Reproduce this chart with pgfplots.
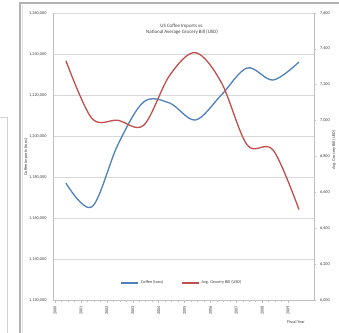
\documentclass[border=0pt]{standalone}
\usepackage{pgfplots}
\pgfplotsset{compat=1.18}
\usepackage{fontspec}
\setmainfont{Carlito}

\definecolor{xlblue}{HTML}{4F81BD}
\definecolor{xlred}{HTML}{C0504D}
\definecolor{gridgray}{HTML}{D9D9D9}
\definecolor{axgray}{HTML}{BFBFBF}
\definecolor{txtgray}{HTML}{404040}

\newcommand{\chartfont}{\fontsize{4.3}{5}\selectfont}

% US coffee imports (tons), one value per year
\pgfplotstableread{
year   tons
2000.42 1177000
2001.42 1165400
2002.42 1195600
2003.42 1216600
2004.42 1216100
2005.42 1207800
2006.42 1220000
2007.42 1233200
2008.42 1227300
2009.42 1236100
}\coffee

% national average grocery bill (USD), one value per year
\pgfplotstableread{
year   bill
2000.42 7334
2001.42 7013
2002.42 7002
2003.42 6974
2004.42 7251
2005.42 7379
2006.42 7213
2007.42 6864
2008.42 6836
2009.42 6504
}\grocery

\pgfplotsset{
  common/.style={
    at={(53bp,33bp)}, anchor=south west,
    scale only axis, width=261bp, height=287bp,
    xmin=1999.92, xmax=2010,
    font=\chartfont, tick label style={font=\chartfont, text=txtgray},
    /pgf/number format/assume math mode=true,
    /pgf/number format/1000 sep={,},
    /pgf/number format/fixed,
    scaled ticks=false,
    axis line style={axgray, line width=0.6bp},
    tick style={axgray, line width=0.5bp},
    major tick length=2.5bp,
    tick align=outside,
    clip=false,
  },
}

\begin{document}
\begin{tikzpicture}
\path[use as bounding box] (0,0) rectangle (339bp,333bp);
\fill[white] (0,0) rectangle (339bp,333bp);
% surrounding window edges
\draw[gray!35, line width=0.6bp] (7bp,0) -- (7bp,216bp) -- (0,216bp);
\draw[gray!60, line width=1.2bp] (20bp,0) -- (20bp,330bp) -- (339bp,330bp);
\draw[gray!20, line width=1bp] (22.5bp,0) -- (22.5bp,328bp);

\begin{axis}[common,
  axis x line*=bottom, axis y line*=left,
  ymin=1120000, ymax=1260000,
  ytick={1120000,1140000,1160000,1180000,1200000,1220000,1240000,1260000},
  ymajorgrids, grid style={gridgray, line width=0.6bp},
  xtick={2000,2001,2002,2003,2004,2005,2006,2007,2008,2009},
  xticklabel style={rotate=90, anchor=east, /pgf/number format/1000 sep={}},
  minor x tick num=3, minor tick length=1.5bp,
  ytick style={draw=none},
  yticklabel style={xshift=-0.5bp},
]
\addplot[xlblue, line width=1.3bp, smooth, tension=0.55]
  table[x=year, y=tons] {\coffee};
\end{axis}

\begin{axis}[common,
  axis x line=none, axis y line*=right,
  ymin=6000, ymax=7600,
  ytick={6000,6200,6400,6600,6800,7000,7200,7400,7600},
  legend style={at={(0.494,0.059)}, anchor=center, draw=none, fill=none,
    font=\chartfont, text=txtgray, legend columns=2,
    /tikz/every even column/.append style={column sep=16bp}},
  legend image post style={line width=1.3bp},
  legend cell align=left,
]
\addlegendimage{xlblue, line width=1.3bp}
\addlegendentry{Coffee (tons)}
\addplot[xlred, line width=1.3bp, smooth, tension=0.55]
  table[x=year, y=bill] {\grocery};
\addlegendentry{Avg. Grocery Bill (USD)}
\end{axis}

% titles and axis titles
\node[font=\fontsize{5}{6}\selectfont, text=txtgray, align=center]
  at (182bp,304bp) {US Coffee Imports vs.\\National Average Grocery Bill (USD)};
\node[font=\chartfont, text=txtgray, rotate=90] at (26bp,176bp) {Coffee Imports (tons)};
\node[font=\chartfont, text=txtgray, rotate=90] at (334bp,183bp) {Avg. Grocery Bill (USD)};
\node[font=\chartfont, text=txtgray] at (296bp,11bp) {Fiscal Year};
\end{tikzpicture}
\end{document}
